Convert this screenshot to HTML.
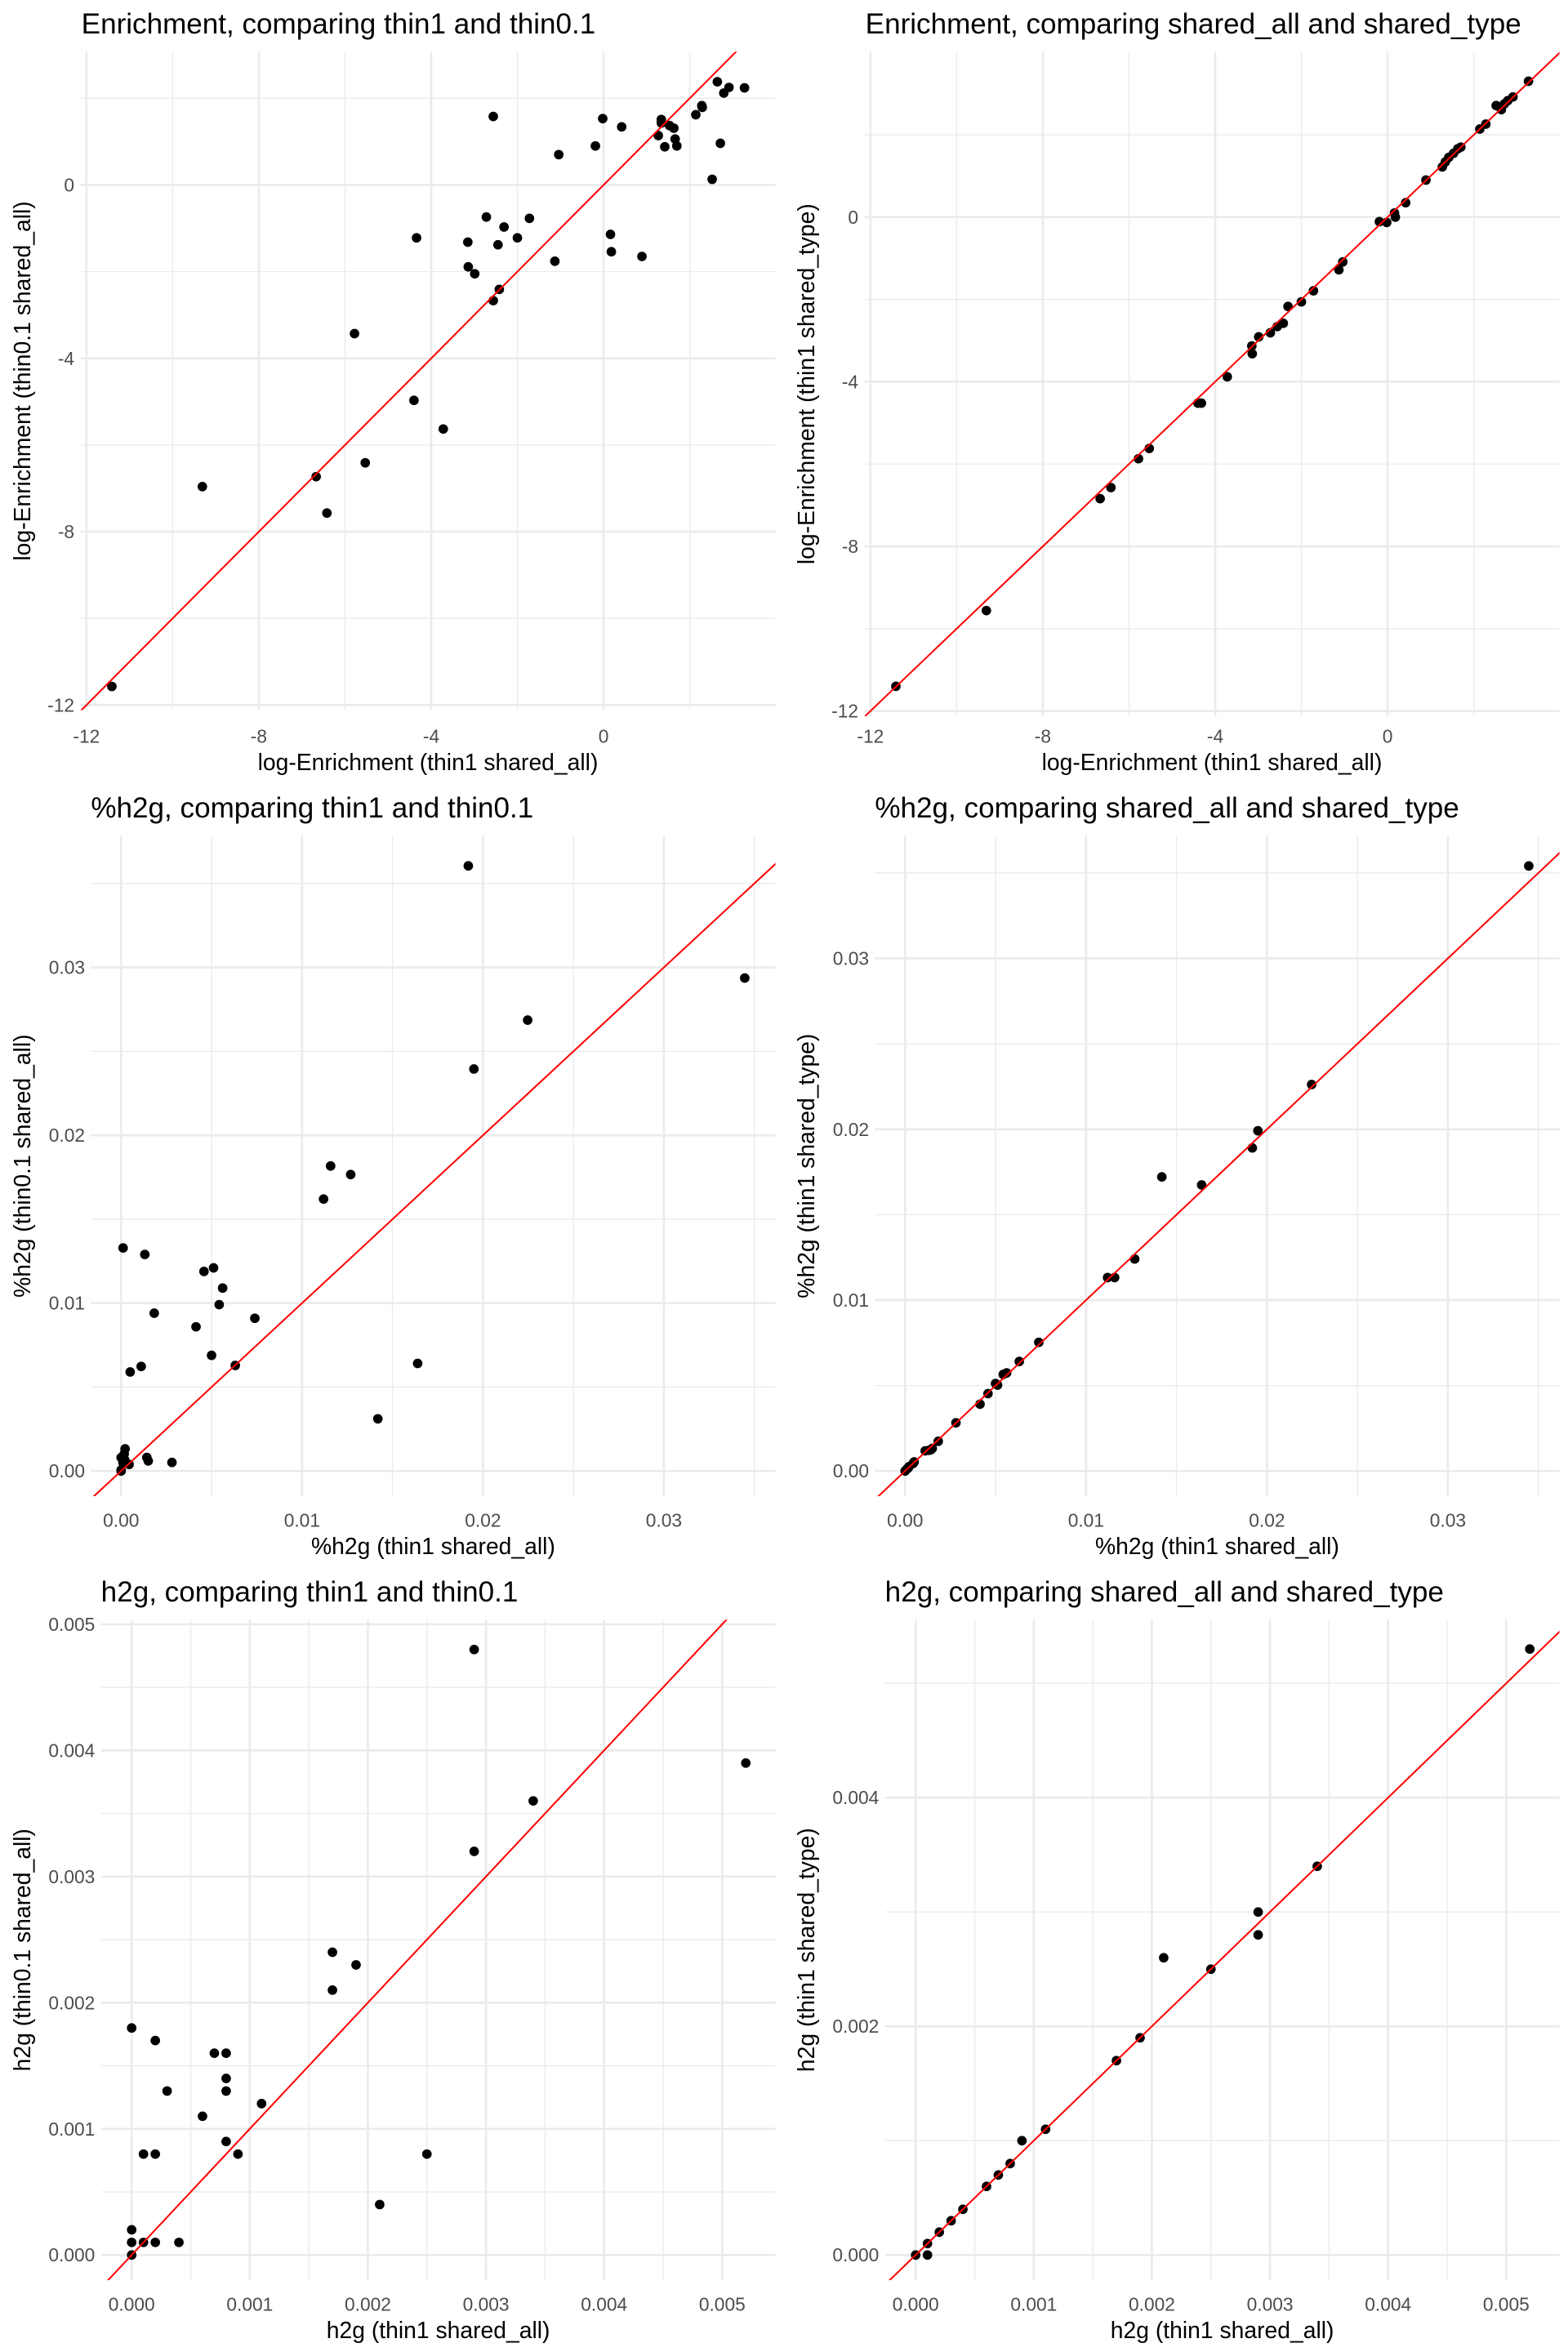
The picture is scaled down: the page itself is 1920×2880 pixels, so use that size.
<!DOCTYPE html>
<html><head><meta charset="utf-8">
<style>
html,body{margin:0;padding:0;background:#fff;width:1920px;height:2880px;overflow:hidden;}
#wrap{width:1920px;height:2880px;position:relative;overflow:hidden;}
svg{position:absolute;display:block;}
text{font-family:"Liberation Sans",sans-serif;}
</style></head>
<body>
<div id="wrap"></div>
<script>
// ---- data arrays ----
const p1X=[-11.41,-9.31,-6.67,-6.42,-5.78,-5.53,-4.40,-4.34,-3.72,-3.15,-3.14,-2.99,-2.72,-2.56,-2.56,-2.45,-2.42,-2.31,-2.00,-1.72,-1.13,-1.04,-0.19,-0.02,0.16,0.18,0.42,0.89,1.27,1.34,1.34,1.42,1.53,1.63,1.66,1.70,2.14,2.28,2.29,2.52,2.64,2.71,2.79,2.91,3.27];
const p1Y=[-11.57,-6.96,-6.73,-7.57,-3.43,-6.41,-4.97,-1.22,-5.63,-1.32,-1.89,-2.05,-0.74,1.58,-2.67,-1.38,-2.41,-0.97,-1.22,-0.77,-1.76,0.70,0.90,1.53,-1.14,-1.54,1.34,-1.65,1.14,1.51,1.43,0.88,1.37,1.31,1.06,0.90,1.62,1.83,1.79,0.13,2.38,0.96,2.12,2.25,2.24];
const p2X=[-11.41,-9.31,-6.67,-6.42,-5.78,-5.53,-4.40,-4.32,-3.72,-3.15,-3.14,-2.99,-2.72,-2.56,-2.42,-2.31,-2.00,-1.72,-1.13,-1.04,-0.19,-0.02,0.16,0.18,0.42,0.89,1.27,1.34,1.42,1.53,1.63,1.70,2.14,2.28,2.52,2.64,2.71,2.79,2.91,3.27];
const p2Y=[-11.40,-9.56,-6.84,-6.57,-5.87,-5.62,-4.52,-4.52,-3.88,-3.13,-3.32,-2.91,-2.81,-2.66,-2.58,-2.17,-2.06,-1.79,-1.28,-1.09,-0.11,-0.13,0.10,0.00,0.35,0.90,1.22,1.34,1.45,1.55,1.66,1.70,2.14,2.26,2.71,2.61,2.75,2.83,2.92,3.30];
const p3X=[0.01919,0.03447,0.02247,0.01950,0.01158,0.01269,0.01119,0.00011,0.00131,0.00458,0.00511,0.00561,0.00542,0.00183,0.00739,0.00414,0.00500,0.00631,0.01639,0.00111,0.00050,0.01419,0.00281,0.00142,0.00150,0.00022,0.00017,0.0,0.0001,0.00044,0.0,0.0,0.0002];
const p3Y=[0.03605,0.02937,0.02686,0.02395,0.01817,0.01766,0.01620,0.01329,0.01290,0.01189,0.01210,0.01090,0.00991,0.00940,0.00910,0.00859,0.00689,0.00629,0.00641,0.00623,0.00590,0.00311,0.00051,0.00081,0.00060,0.00132,0.00102,0.0008,0.0005,0.00039,0.00006,0.0,0.00066];
const p4X=[0.03447,0.02247,0.01950,0.01919,0.01419,0.01639,0.01269,0.01119,0.01158,0.00739,0.00631,0.00561,0.00542,0.00500,0.00511,0.00458,0.00414,0.00281,0.00183,0.00150,0.00142,0.00131,0.00111,0.00050,0.00044,0.00022,0.0001,0.0,0.00017];
const p4Y=[0.03541,0.02262,0.01991,0.01891,0.01721,0.01674,0.01241,0.01132,0.01132,0.00753,0.00641,0.00574,0.00565,0.00512,0.00503,0.00453,0.00391,0.00282,0.00174,0.00132,0.00124,0.00121,0.00118,0.00053,0.00044,0.00026,0.00012,0.0,0.00018];
const p5X=[0.0029,0.0052,0.0034,0.0029,0.0017,0.0019,0.0017,0.0,0.0002,0.0007,0.0008,0.0008,0.0003,0.0008,0.0011,0.0006,0.0008,0.0001,0.0002,0.0009,0.0025,0.0021,0.0,0.0,0.0001,0.0002,0.0004,0.0];
const p5Y=[0.0048,0.0039,0.0036,0.0032,0.0024,0.0023,0.0021,0.0018,0.0017,0.0016,0.0016,0.0014,0.0013,0.0013,0.0012,0.0011,0.0009,0.0008,0.0008,0.0008,0.0008,0.0004,0.0002,0.0001,0.0001,0.0001,0.0001,0.0];
const p6X=[0.0052,0.0034,0.0029,0.0029,0.0021,0.0025,0.0019,0.0017,0.0011,0.0009,0.0008,0.0007,0.0006,0.0004,0.0003,0.0002,0.0001,0.0001,0.0];
const p6Y=[0.0053,0.0034,0.0030,0.0028,0.0026,0.0025,0.0019,0.0017,0.0011,0.0010,0.0008,0.0007,0.0006,0.0004,0.0003,0.0002,0.0001,0.0,0.0];
const enrTicks=[-12,-8,-4,0];
const enrTickLabels=["-12","-8","-4","0"];
const pctTicks=[0,0.01,0.02,0.03];
const pctTickLabels=["0.00","0.01","0.02","0.03"];
const h2gTicks=[0,0.001,0.002,0.003,0.004,0.005];
const h2gTickLabels=["0.000","0.001","0.002","0.003","0.004","0.005"];
const h2g6YTicks=[0,0.002,0.004];
const h2g6YTickLabels=["0.000","0.002","0.004"];

const NS="http://www.w3.org/2000/svg";
function mk(tag,attrs,parent){const e=document.createElementNS(NS,tag);for(const k in attrs)e.setAttribute(k,attrs[k]);if(parent)parent.appendChild(e);return e;}

const panels=[
 {px:0,py:0,title:"Enrichment, comparing thin1 and thin0.1",xl:"log-Enrichment (thin1 shared_all)",yl:"log-Enrichment (thin0.1 shared_all)",
  L:160,R:1543,T:103,B:1413,x0:1201,xs:85.75,y0:368,ys:86.25,xt:enrTicks,xtl:enrTickLabels,yt:enrTicks,ytl:enrTickLabels,xm:[-10,-6,-2,2],ym:[2,-2,-6,-10],X:p1X,Y:p1Y,tx:162},
 {px:960,py:0,title:"Enrichment, comparing shared_all and shared_type",xl:"log-Enrichment (thin1 shared_all)",yl:"log-Enrichment (thin1 shared_type)",
  L:160,R:1543,T:103,B:1425,x0:1201,xs:85.75,y0:432,ys:81.9,xt:enrTicks,xtl:enrTickLabels,yt:enrTicks,ytl:enrTickLabels,xm:[-10,-6,-2,2],ym:[2,-2,-6,-10],X:p2X,Y:p2Y,tx:162},
 {px:0,py:960,title:"%h2g, comparing thin1 and thin0.1",xl:"%h2g (thin1 shared_all)",yl:"%h2g (thin0.1 shared_all)",
  L:181,R:1543,T:103,B:1417,x0:241,xs:36000,y0:1367,ys:33400,xt:pctTicks,xtl:pctTickLabels,yt:pctTicks,ytl:pctTickLabels,xm:[0.005,0.015,0.025,0.035],ym:[0.005,0.015,0.025,0.035],X:p3X,Y:p3Y,tx:181},
 {px:960,py:960,title:"%h2g, comparing shared_all and shared_type",xl:"%h2g (thin1 shared_all)",yl:"%h2g (thin1 shared_type)",
  L:181,R:1543,T:103,B:1417,x0:241,xs:36000,y0:1367,ys:34000,xt:pctTicks,xtl:pctTickLabels,yt:pctTicks,ytl:pctTickLabels,xm:[0.005,0.015,0.025,0.035],ym:[0.005,0.015,0.025,0.035],X:p4X,Y:p4Y,tx:181},
 {px:0,py:1920,title:"h2g, comparing thin1 and thin0.1",xl:"h2g (thin1 shared_all)",yl:"h2g (thin0.1 shared_all)",
  L:201,R:1543,T:103,B:1417,x0:262,xs:235000,y0:1367,ys:251000,xt:h2gTicks,xtl:h2gTickLabels,yt:h2gTicks,ytl:h2gTickLabels,xm:[0.0005,0.0015,0.0025,0.0035,0.0045],ym:[0.0005,0.0015,0.0025,0.0035,0.0045],X:p5X,Y:p5Y,tx:201},
 {px:960,py:1920,title:"h2g, comparing shared_all and shared_type",xl:"h2g (thin1 shared_all)",yl:"h2g (thin1 shared_type)",
  L:201,R:1543,T:103,B:1417,x0:262,xs:235000,y0:1367,ys:227500,xt:h2gTicks,xtl:h2gTickLabels,yt:h2g6YTicks,ytl:h2g6YTickLabels,xm:[0.0005,0.0015,0.0025,0.0035,0.0045],ym:[0.001,0.003,0.005],X:p6X,Y:p6Y,tx:201}
];
const wrap=document.getElementById('wrap');
panels.forEach((p,i)=>{
  const svg=mk('svg',{width:960,height:960,viewBox:"0 0 1560 1560",style:`left:${p.px}px;top:${p.py}px`},wrap);
  
  
  const sx=v=>p.x0+p.xs*v, sy=v=>p.y0-p.ys*v;
  const g=mk('g',{},svg);
  
  
  p.xm.forEach(v=>{const x=sx(v);if(x>p.L&&x<p.R)mk('line',{x1:x,x2:x,y1:p.T,y2:p.B,stroke:'#ebebeb','stroke-width':2.2},g);});
  p.ym.forEach(v=>{const y=sy(v);if(y>p.T&&y<p.B)mk('line',{x1:p.L,x2:p.R,y1:y,y2:y,stroke:'#ebebeb','stroke-width':2.2},g);});
  p.xt.forEach(v=>{const x=sx(v);mk('line',{x1:x,x2:x,y1:p.T,y2:p.B,stroke:'#ebebeb','stroke-width':4.3},g);});
  p.yt.forEach(v=>{const y=sy(v);mk('line',{x1:p.L,x2:p.R,y1:y,y2:y,stroke:'#ebebeb','stroke-width':4.3},g);});
  p.xt.forEach((v,k)=>{const t=mk('text',{x:sx(v),y:1478,'font-size':37,fill:'#4d4d4d','text-anchor':'middle'},svg);t.textContent=p.xtl[k];
    
    });
  p.yt.forEach((v,k)=>{const t=mk('text',{x:p.L-12,y:sy(v)+13,'font-size':37,fill:'#4d4d4d','text-anchor':'end'},svg);t.textContent=p.ytl[k];
    
    });
  const cp=mk('clipPath',{id:'c'+i},svg);mk('rect',{x:p.L,y:p.T,width:p.R-p.L,height:p.B-p.T},cp);
  const pts=mk('g',{'clip-path':`url(#c${i})`},svg);
  
  
  p.X.forEach((xv,k)=>{const c=mk('circle',{cx:sx(xv),cy:sy(p.Y[k]),r:9.5,fill:'#000'},pts);
    
    });
  const lo=Math.min((p.L-p.x0)/p.xs,(p.y0-p.B)/p.ys);
  const hi=Math.max((p.R-p.x0)/p.xs,(p.y0-p.T)/p.ys);
  const lg=mk('g',{'clip-path':`url(#c${i})`},svg);
  const ln=mk('line',{x1:sx(lo),y1:sy(lo),x2:sx(hi),y2:sy(hi),stroke:'#ff0000','stroke-width':3.3},lg);
  
  
  const tt=mk('text',{x:p.tx,y:67,'font-size':57,fill:'#000'},svg);tt.textContent=p.title;
  
  
  const xl=mk('text',{x:(p.L+p.R)/2,y:1532,'font-size':46,fill:'#000','text-anchor':'middle'},svg);xl.textContent=p.xl;
  
  
  const cy=(p.T+p.B)/2;
  const yl=mk('text',{x:0,y:0,'font-size':46,fill:'#000','text-anchor':'middle',transform:`translate(60,${cy}) rotate(-90)`},svg);yl.textContent=p.yl;
  
  
});
</script>
</body></html>
